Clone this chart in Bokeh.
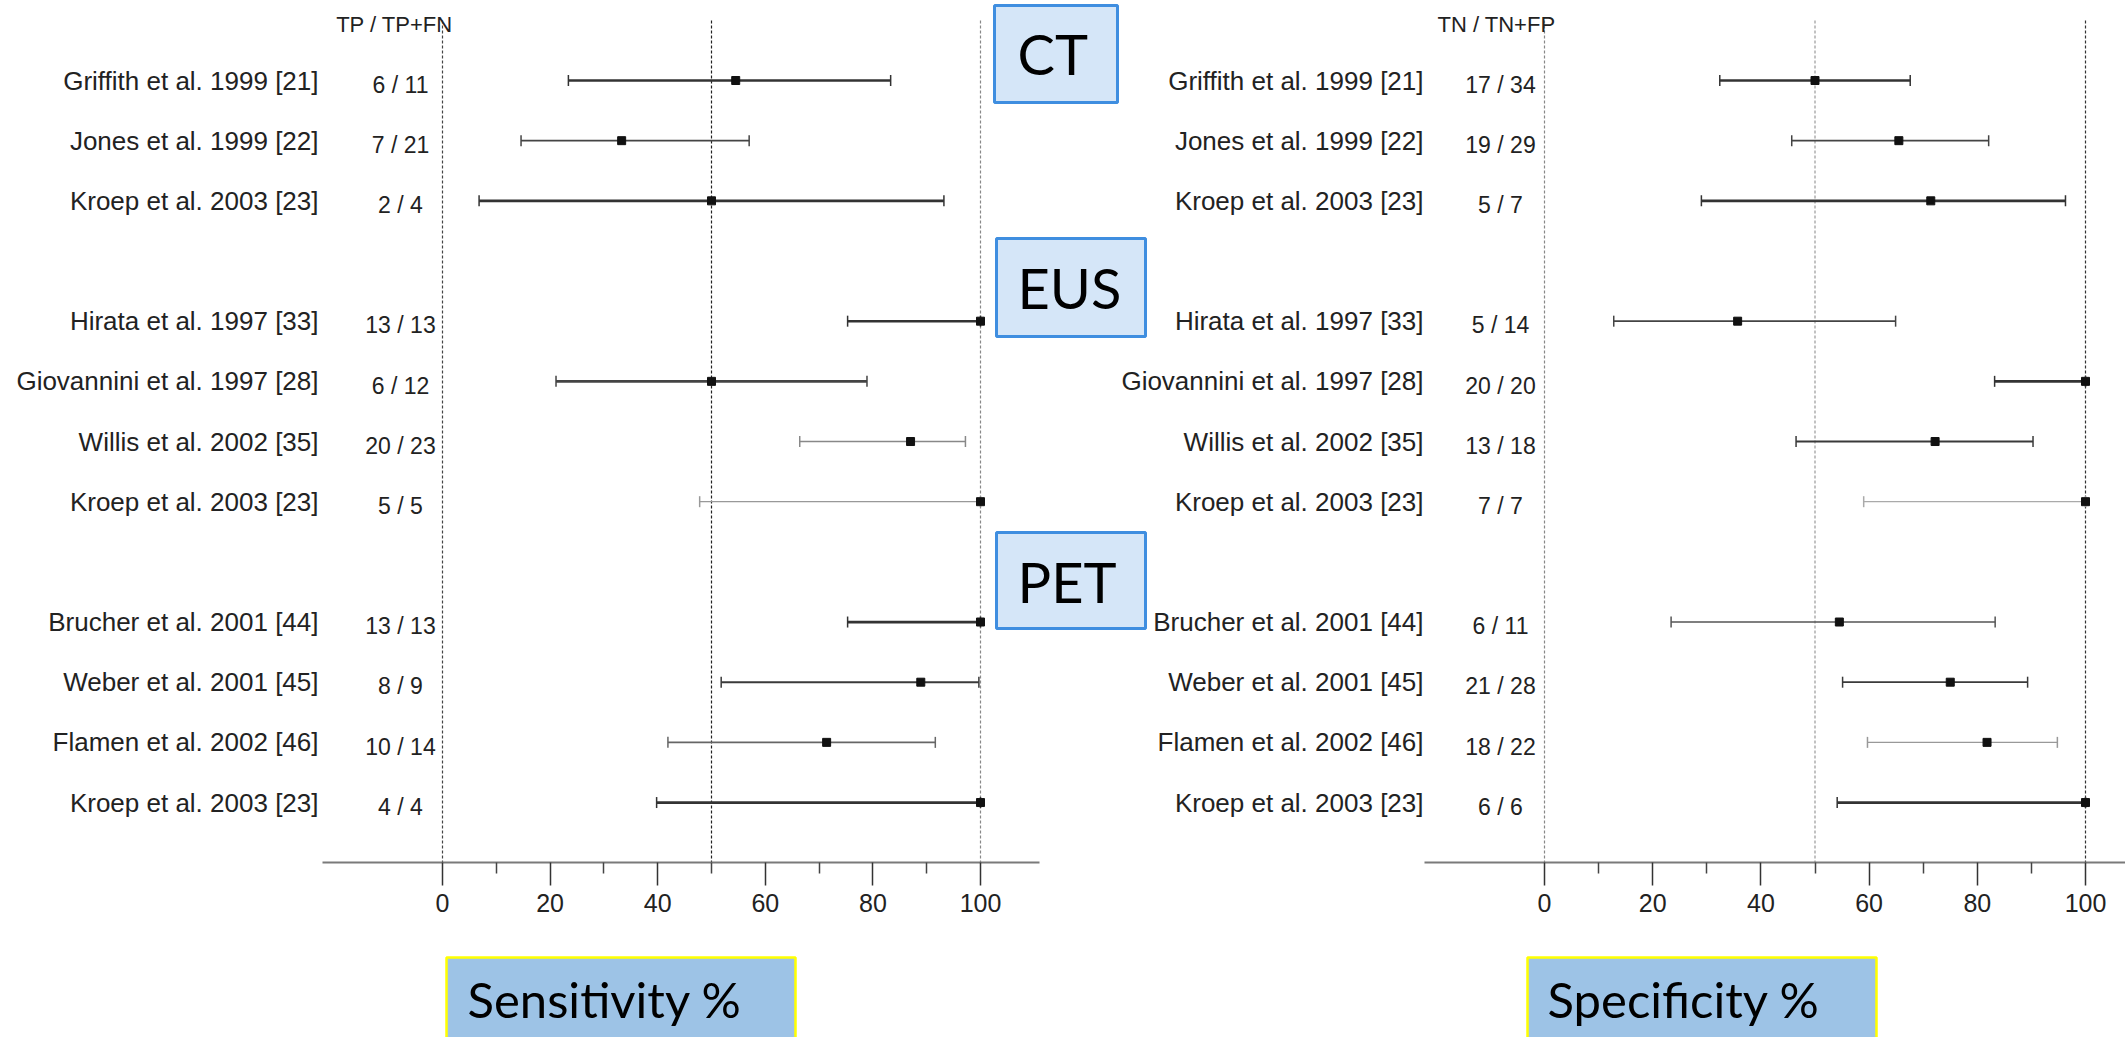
import numpy as np
from bokeh.plotting import figure
from bokeh.models import Range1d, LinearAxis, FixedTicker, ColumnDataSource
from bokeh.core.properties import value
from bokeh.embed import file_html
from bokeh.resources import INLINE

# ---------------------------------------------------------------- data
studies = [
    "Griffith et al. 1999 [21]", "Jones et al. 1999 [22]", "Kroep et al. 2003 [23]",
    "Hirata et al. 1997 [33]", "Giovannini et al. 1997 [28]", "Willis et al. 2002 [35]",
    "Kroep et al. 2003 [23]",
    "Brucher et al. 2001 [44]", "Weber et al. 2001 [45]", "Flamen et al. 2002 [46]",
    "Kroep et al. 2003 [23]",
]
modality = ["CT", "CT", "CT", "EUS", "EUS", "EUS", "EUS", "PET", "PET", "PET", "PET"]
modality_order = ["CT", "EUS", "PET"]

sens_counts = ["6 / 11", "7 / 21", "2 / 4", "13 / 13", "6 / 12", "20 / 23", "5 / 5",
               "13 / 13", "8 / 9", "10 / 14", "4 / 4"]
sens_est = [54.5, 33.3, 50.0, 100.0, 50.0, 87.0, 100.0, 100.0, 88.9, 71.4, 100.0]
sens_lo = [23.4, 14.6, 6.8, 75.3, 21.1, 66.4, 47.8, 75.3, 51.8, 41.9, 39.8]
sens_hi = [83.3, 57.0, 93.2, 100.0, 78.9, 97.2, 100.0, 100.0, 99.7, 91.6, 100.0]

spec_counts = ["17 / 34", "19 / 29", "5 / 7", "5 / 14", "20 / 20", "13 / 18", "7 / 7",
               "6 / 11", "21 / 28", "18 / 22", "6 / 6"]
spec_est = [50.0, 65.5, 71.4, 35.7, 100.0, 72.2, 100.0, 54.5, 75.0, 81.8, 100.0]
spec_lo = [32.4, 45.7, 29.0, 12.8, 83.2, 46.5, 59.0, 23.4, 55.1, 59.7, 54.1]
spec_hi = [67.6, 82.1, 96.3, 64.9, 100.0, 90.3, 100.0, 83.3, 89.3, 94.8, 100.0]

tick_major = [0, 20, 40, 60, 80, 100]
tick_minor = [10, 30, 50, 70, 90]
ref_lines = [0, 50, 100]

# ---------------------------------------------------------------- styling
sens_line_w = [2.6, 1.8, 2.6, 2.6, 2.6, 1.4, 1.3, 2.8, 2.0, 1.8, 2.8]
sens_line_c = ["#333", "#444", "#333", "#333", "#444", "#888", "#999", "#333", "#3a3a3a", "#666", "#333"]
spec_line_w = [2.4, 1.8, 2.6, 1.8, 2.6, 1.8, 1.2, 1.6, 1.8, 1.2, 2.8]
spec_line_c = ["#333", "#444", "#333", "#444", "#333", "#3a3a3a", "#aaa", "#555", "#3a3a3a", "#999", "#333"]

# one blank row between modality groups
rows = [i + modality_order.index(m) for i, m in enumerate(modality)]
AXIS_ROW = max(rows) + 1

W, H = 2125, 1037
L0, LS = 442.0, 5.38     # canvas x of 0 % and px per % (sensitivity panel)
R0, RS = 1544.0, 5.41    # same for the specificity panel
ROW0, ROWH = 80.0, 60.17 # canvas y of first row and row pitch


def lx(px):
    return (px - L0) / LS


def rx(px):
    return (px - R0) / RS


def ry(py):
    return (py - ROW0) / ROWH


p = figure(
    width=W, height=H,
    x_range=Range1d(lx(0), lx(W)),
    y_range=Range1d(ry(H), ry(0)),
    output_backend="svg", toolbar_location=None,
    x_axis_location=None, y_axis_location=None,
    min_border=0, outline_line_color=None,
    background_fill_color="white", border_fill_color="white",
)
p.extra_x_ranges = {"spec": Range1d(rx(0), rx(W))}
p.grid.grid_line_color = None

# ---------------------------------------------------------------- axes
for rng, bounds in [("default", (lx(322), lx(1039))), ("spec", (rx(1424), rx(2160)))]:
    ax = LinearAxis(
        x_range_name=rng, fixed_location=AXIS_ROW, bounds=bounds,
        ticker=FixedTicker(ticks=tick_major, minor_ticks=tick_minor),
    )
    ax.axis_line_color = "#7a7a7a"
    ax.axis_line_width = 2
    ax.major_tick_line_color = "#333"
    ax.major_tick_line_width = 1.5
    ax.major_tick_in = 0
    ax.major_tick_out = 23
    ax.minor_tick_line_color = "#444"
    ax.minor_tick_line_width = 1.5
    ax.minor_tick_in = 0
    ax.minor_tick_out = 11
    ax.major_label_standoff = 8
    ax.major_label_text_font = "Liberation Sans"
    ax.major_label_text_font_size = "25px"
    ax.major_label_text_color = "#222"
    p.add_layout(ax, "below")

# ---------------------------------------------------------------- reference lines
p.segment(x0=ref_lines, x1=ref_lines, y0=ry(20), y1=AXIS_ROW,
          line_color=["#444", "#222", "#888"], line_width=1.2, line_dash="3 2")
p.segment(x0=ref_lines, x1=ref_lines, y0=ry(20), y1=AXIS_ROW,
          line_color=["#888", "#999", "#333"], line_width=1.2, line_dash="3 2",
          x_range_name="spec")

# ---------------------------------------------------------------- panels
panels = [
    ("default", sens_est, sens_lo, sens_hi, sens_counts, sens_line_w, sens_line_c,
     "TP / TP+FN", lx(318), lx(400), lx(394)),
    ("spec", spec_est, spec_lo, spec_hi, spec_counts, spec_line_w, spec_line_c,
     "TN / TN+FP", rx(1423), rx(1500), rx(1496)),
]
for rng, est, lo, hi, counts, lw, lc, header, name_x, count_x, head_x in panels:
    src = ColumnDataSource(dict(
        y=rows, est=est, lo=lo, hi=hi, lw=lw, lc=lc,
        study=studies, counts=counts,
        yc=[r + 0.07 for r in rows],
    ))
    p.segment(x0="lo", x1="hi", y0="y", y1="y", line_width="lw", line_color="lc",
              source=src, x_range_name=rng)
    for col in ("lo", "hi"):
        p.scatter(x=col, y="y", marker="dash", angle=np.pi / 2, size=11,
                  line_color="lc", line_width=1.5, source=src, x_range_name=rng)
    p.scatter(x="est", y="y", marker="square", size=8, fill_color="#111",
              line_color="#111", source=src, x_range_name=rng)
    p.text(x=name_x, y="y", text="study", source=src, x_range_name=rng,
           text_align="right", text_baseline="middle",
           text_font=value("Liberation Sans"), text_font_size="26px", text_color="#222")
    p.text(x=count_x, y="yc", text="counts", source=src, x_range_name=rng,
           text_align="center", text_baseline="middle",
           text_font=value("Liberation Sans"), text_font_size="23px", text_color="#222")
    p.text(x=[head_x], y=[ry(24)], text=[header], x_range_name=rng,
           text_align="center", text_baseline="middle",
           text_font=value("Liberation Sans"), text_font_size="22px", text_color="#222")

# ---------------------------------------------------------------- modality tags
tag_boxes = {  # canvas px: left, right, top, bottom, text mid-line
    "CT": (994, 1117, 5, 102, 53),
    "EUS": (996, 1145, 238, 336, 287),
    "PET": (996, 1145, 532, 628, 581),
}
for tag in modality_order:
    l, r, t, b, mid = tag_boxes[tag]
    p.quad(left=[lx(l)], right=[lx(r)], top=[ry(t)], bottom=[ry(b)],
           fill_color="#D5E6F8", line_color="#3F8EE0", line_width=3)
    p.text(x=[lx(1017)], y=[ry(mid)], text=[tag], text_align="left",
           text_baseline="middle", text_font=value("Lato"),
           text_font_size="56px", text_color="black")

# ---------------------------------------------------------------- axis titles
p.quad(left=[lx(446)], right=[lx(795)], top=[ry(957)], bottom=[ry(1050)],
       fill_color="#9DC3E6", line_color="#FFFF00", line_width=2.5)
p.text(x=[lx(467)], y=[ry(998)], text=["Sensitivity %"], text_align="left",
       text_baseline="middle", text_font=value("Lato"),
       text_font_size="49px", text_color="black")
p.quad(left=[rx(1527)], right=[rx(1876)], top=[ry(957)], bottom=[ry(1050)],
       fill_color="#9DC3E6", line_color="#FFFF00", line_width=2.5, x_range_name="spec")
p.text(x=[rx(1547)], y=[ry(998)], text=["Specificity %"], text_align="left",
       text_baseline="middle", text_font=value("Lato"),
       text_font_size="49px", text_color="black", x_range_name="spec")

open("out.html", "w").write(file_html(p, INLINE))
